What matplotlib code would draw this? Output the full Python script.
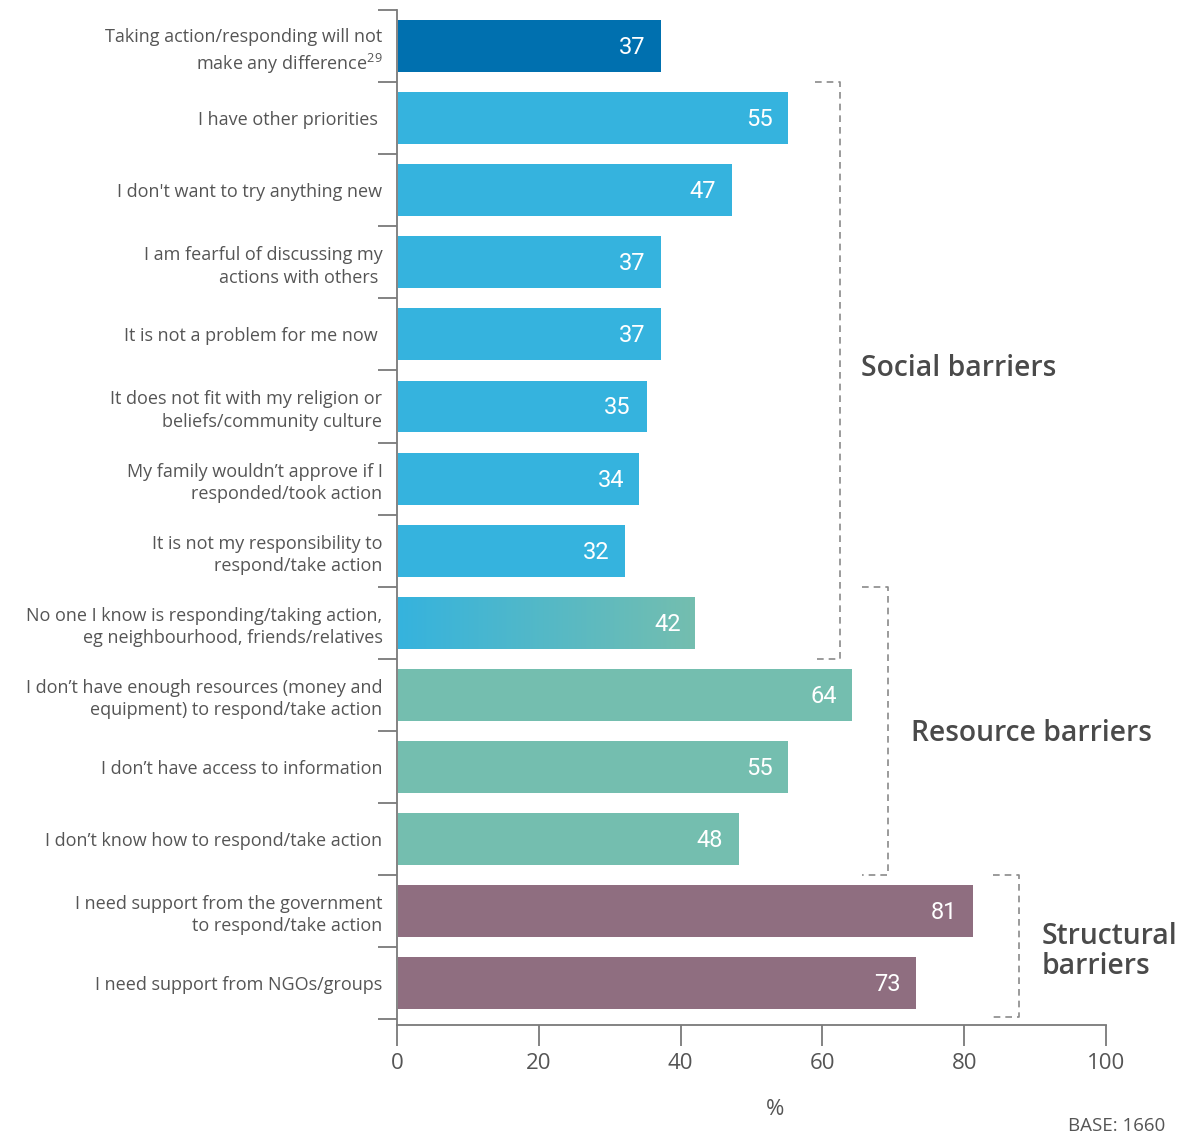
import numpy as np
import matplotlib.pyplot as plt
from matplotlib.colors import LinearSegmentedColormap

plt.rcParams['font.family'] = ['Open Sans', 'DejaVu Sans']
plt.rcParams['mathtext.fontset'] = 'custom'
plt.rcParams['mathtext.rm'] = 'Open Sans'

labels = [
    'Taking action/responding will not\nmake any difference$^{\\mathregular{29}}$',
    'I have other priorities ',
    "I don't want to try anything new",
    'I am fearful of discussing my\nactions with others ',
    'It is not a problem for me now ',
    'It does not fit with my religion or\nbeliefs/community culture',
    'My family wouldn\u2019t approve if I\nresponded/took action',
    'It is not my responsibility to\nrespond/take action',
    'No one I know is responding/taking action,\neg neighbourhood, friends/relatives',
    'I don\u2019t have enough resources (money and\nequipment) to respond/take action',
    'I don\u2019t have access to information',
    'I don\u2019t know how to respond/take action',
    'I need support from the government\nto respond/take action',
    'I need support from NGOs/groups',
]
values = [37, 55, 47, 37, 37, 35, 34, 32, 42, 64, 55, 48, 81, 73]
groups = ['top', 'social', 'social', 'social', 'social', 'social', 'social',
          'social', 'mixed', 'resource', 'resource', 'resource',
          'structural', 'structural']

colors = {'top': '#0070AF', 'social': '#35B3DE', 'resource': '#74BEAF',
          'structural': '#8F6E80', 'mixed': 'none'}

txt = '#555555'
spine = '#7a7a7a'
bar_h = 0.72

fig = plt.figure(figsize=(11.82, 11.35), dpi=100)
ax = fig.add_axes([397 / 1182, 1 - 1025 / 1135, 709 / 1182, 1015 / 1135])

y = np.arange(len(values))
bars = ax.barh(y, values, height=bar_h, left=0.2,
               color=[colors[g] for g in groups], zorder=2)

# gradient bar: social blue fading into resource teal
grad = LinearSegmentedColormap.from_list('blend', [colors['social'], colors['resource']])
for i, g in enumerate(groups):
    if g == 'mixed':
        ax.imshow(np.linspace(0, 1, 256).reshape(1, -1), cmap=grad, aspect='auto',
                  extent=[0.2, values[i], i + bar_h / 2, i - bar_h / 2], zorder=2)

for i, v in enumerate(values):
    ax.text(v - 2, i + 0.02, str(v), color='white', fontsize=17, family='Roboto',
            ha='right', va='center', zorder=3)

ax.set_xlim(0, 100)
ax.set_ylim(13.58, -0.5)
ax.set_yticks(y)
ax.set_yticklabels(labels, fontsize=13, color=txt, linespacing=1.3)
ax.set_yticks(np.arange(-0.5, 14, 1), minor=True)
ax.tick_params(axis='y', which='major', length=0, pad=10.5)
ax.tick_params(axis='y', which='minor', length=14, width=1.3, color=spine)
ax.set_xticks(np.arange(0, 101, 20))
ax.tick_params(axis='x', length=15, width=1.3, color=spine, labelsize=16,
               labelcolor=txt, pad=5)
for s in ['top', 'right']:
    ax.spines[s].set_visible(False)
for s in ['left', 'bottom']:
    ax.spines[s].set_color(spine)
    ax.spines[s].set_linewidth(1.3)

ax.set_xlabel('%', fontsize=16, color=txt, labelpad=18, x=0.533)

# dashed group brackets
dash = dict(color='#8a8a8a', lw=1.2, ls=(0, (4, 3)), clip_on=False)
brackets = [(59.0, 62.5, 0.5, 8.5), (65.6, 69.2, 7.5, 11.5), (84.1, 87.7, 11.5, 13.47)]
for x0, x1, y0, y1 in brackets:
    ax.plot([x0, x1, x1, x0], [y0, y0, y1, y1], **dash)

gkw = dict(fontsize=20.3, color='#4a4a4a', fontweight='semibold', va='center',
           ha='left', clip_on=False)
ax.text(65.4, 4.47, 'Social barriers', **gkw)
ax.text(72.5, 9.53, 'Resource barriers', **gkw)
ax.text(90.9, 12.56, 'Structural\nbarriers', linespacing=1.05, **gkw)

fig.text(1165 / 1182, 1 - 1126 / 1135, 'BASE: 1660', fontsize=13.5, color=txt,
         ha='right', va='center')

plt.savefig('out.png', dpi=100)
